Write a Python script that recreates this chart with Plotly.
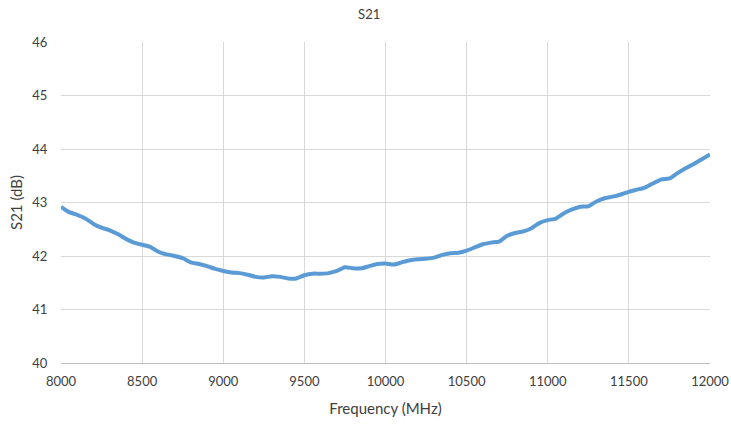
import plotly.graph_objects as go

freq = list(range(8000, 12001, 50))
s21 = [42.92, 42.82, 42.77, 42.70, 42.60, 42.53, 42.48, 42.41, 42.32, 42.25,
       42.21, 42.17, 42.08, 42.03, 42.00, 41.96, 41.88, 41.85, 41.81, 41.76,
       41.72, 41.69, 41.68, 41.65, 41.61, 41.60, 41.62, 41.61, 41.58, 41.58,
       41.64, 41.67, 41.67, 41.68, 41.72, 41.79, 41.77, 41.77, 41.81, 41.85,
       41.86, 41.84, 41.88, 41.92, 41.94, 41.95, 41.97, 42.02, 42.05, 42.06,
       42.10, 42.16, 42.22, 42.25, 42.27, 42.38, 42.43, 42.46, 42.52, 42.62,
       42.67, 42.70, 42.80, 42.87, 42.92, 42.93, 43.02, 43.08, 43.11, 43.15,
       43.20, 43.24, 43.28, 43.36, 43.43, 43.45, 43.55, 43.64, 43.72, 43.81,
       43.90]
x_ticks = [8000, 8500, 9000, 9500, 10000, 10500, 11000, 11500, 12000]
x_labels = ["8000", "8500", "9000", "9500", "10000", "10500", "11000", "11500", "12000"]
y_ticks = [40, 41, 42, 43, 44, 45, 46]
y_labels = ["40", "41", "42", "43", "44", "45", "46"]

font = "Lato, Open Sans, sans-serif"
fig = go.Figure(go.Scatter(x=freq, y=s21, mode="lines",
                           line=dict(color="#5B9BD5", width=4, shape="spline", smoothing=0.6),
                           hoverinfo="x+y"))
fig.update_layout(
    width=731, height=424,
    margin=dict(l=61, r=21, t=42, b=61, autoexpand=False),
    paper_bgcolor="white", plot_bgcolor="white",
    font=dict(family=font, size=13, color="#404040"),
    title=dict(text="S21", x=0.505, xref="container", y=1 - 14 / 424, yref="container",
               xanchor="center", yanchor="middle", font=dict(size=13, color="#404040", family=font)),
    showlegend=False,
)
fig.update_xaxes(range=[8000, 12000], tickvals=x_ticks, ticktext=x_labels, showgrid=True,
                 gridcolor="#d9d9d9", automargin=False,
                 gridwidth=1, zeroline=False, showline=True, linecolor="#bfbfbf", linewidth=1,
                 ticks="outside", ticklen=6, tickcolor="rgba(0,0,0,0)",
                 title=dict(text="Frequency (MHz)", standoff=15, font=dict(size=15, color="#404040")))
fig.update_yaxes(range=[40, 46], tickvals=y_ticks, ticktext=y_labels, showgrid=True,
                 gridcolor="#d9d9d9", automargin=False,
                 gridwidth=1, zeroline=False, showline=False,
                 ticks="outside", ticklen=10, tickcolor="rgba(0,0,0,0)",
                 title=dict(text="S21 (dB)", standoff=6, font=dict(size=15, color="#404040")))
fig.write_html("out.html", config={"displayModeBar": False},
               post_script="document.body.style.margin='0';document.body.style.overflow='hidden';")
